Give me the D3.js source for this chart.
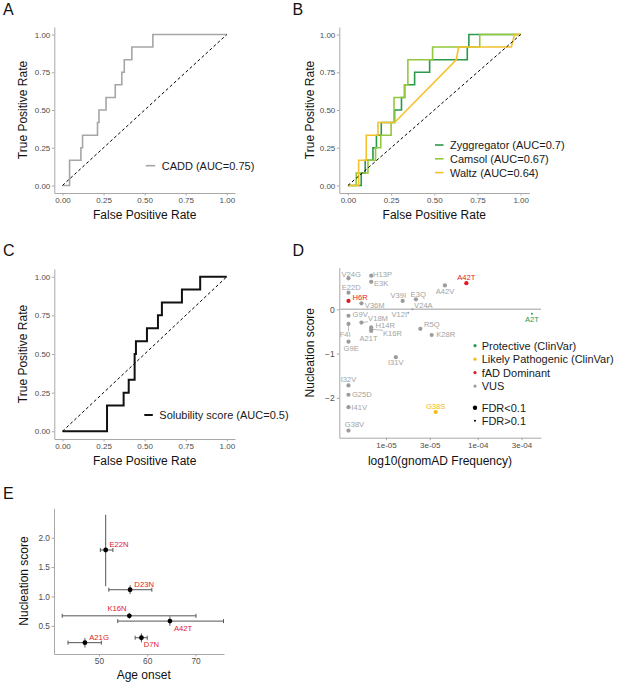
<!DOCTYPE html>
<html lang="en">
<head>
<meta charset="UTF-8" />
<title>Predictor ROC curves and nucleation scores</title>
<script src="https://cdn.jsdelivr.net/npm/d3@7"></script>
<style>
  body { margin: 0; background: #fff; }
  svg { font-family: "Liberation Sans", Arial, Helvetica, sans-serif; }
  .tick text { fill: #4d4d4d; }
  .tick line, .domain { stroke: #a8a8a8; }
</style>
</head>
<body>
<svg id="fig" width="617" height="685"></svg>
<script>
// ---- data ----
const rocTicks = [0, 0.25, 0.5, 0.75, 1];

// A: CADD
const caddFpr = [0, 0.043, 0.043, 0.112, 0.112, 0.122, 0.122, 0.213, 0.213, 0.222, 0.222, 0.265, 0.265, 0.321, 0.321, 0.361, 0.361, 0.376, 0.376, 0.422, 0.422, 0.55, 0.55, 1];
const caddTpr = [0, 0, 0.167, 0.167, 0.25, 0.25, 0.333, 0.333, 0.417, 0.417, 0.5, 0.5, 0.583, 0.583, 0.667, 0.667, 0.75, 0.75, 0.833, 0.833, 0.917, 0.917, 1, 1];

// B: aggregation predictors
const zyggFpr = [0, 0.077, 0.077, 0.1, 0.1, 0.145, 0.145, 0.165, 0.165, 0.193, 0.193, 0.27, 0.27, 0.31, 0.31, 0.328, 0.328, 0.386, 0.386, 0.473, 0.473, 0.691, 0.691, 0.70, 0.70, 1];
const zyggTpr = [0, 0, 0.083, 0.083, 0.167, 0.167, 0.25, 0.25, 0.333, 0.333, 0.417, 0.417, 0.5, 0.5, 0.583, 0.583, 0.667, 0.667, 0.75, 0.75, 0.833, 0.833, 0.917, 0.917, 1, 1];
const camsolFpr = [0, 0.048, 0.048, 0.116, 0.116, 0.16, 0.16, 0.19, 0.19, 0.25, 0.25, 0.267, 0.267, 0.328, 0.328, 0.347, 0.347, 0.49, 0.49, 0.763, 0.763, 1];
const camsolTpr = [0, 0, 0.083, 0.083, 0.167, 0.167, 0.25, 0.25, 0.333, 0.333, 0.417, 0.417, 0.583, 0.583, 0.667, 0.667, 0.833, 0.833, 0.917, 0.917, 1, 1];
const waltzFpr = [0, 0.062, 0.062, 0.106, 0.106, 0.174, 0.174, 0.27, 0.627, 0.641, 0.946, 0.965, 1];
const waltzTpr = [0, 0, 0.167, 0.167, 0.333, 0.333, 0.417, 0.417, 0.833, 0.917, 0.917, 1, 1];

// C: solubility
const solFpr = [0, 0.271, 0.271, 0.372, 0.372, 0.403, 0.403, 0.439, 0.439, 0.447, 0.447, 0.514, 0.514, 0.581, 0.581, 0.605, 0.605, 0.727, 0.727, 0.838, 0.838, 1];
const solTpr = [0, 0, 0.167, 0.167, 0.25, 0.25, 0.333, 0.333, 0.5, 0.5, 0.583, 0.583, 0.667, 0.667, 0.75, 0.75, 0.833, 0.833, 0.917, 0.917, 1, 1];

// D: variants, gnomAD frequency vs nucleation score
const dNames = ["V24G", "H13P", "E3K", "E22D", "H6R", "V36M", "V39I", "E3Q", "V24A", "V12I", "A42V", "A42T", "A2T",
  "G9V", "V18M", "F4I", "H14R", "K16R", "A21T", "R5Q", "K28R", "G9E", "I31V", "I32V", "G25D", "I41V", "G38S", "G38V"];
const dFreq = [3.9e-6, 6.9e-6, 6.9e-6, 3.9e-6, 3.9e-6, 5.4e-6, 1.52e-5, 2.12e-5, 1.94e-5, 1.75e-5, 4.39e-5, 7.52e-5, 3.9e-4,
  3.9e-6, 5.4e-6, 3.9e-6, 6.9e-6, 6.9e-6, 6.9e-6, 2.37e-5, 3.15e-5, 3.9e-6, 1.28e-5, 3.9e-6, 3.9e-6, 3.9e-6, 3.48e-5, 3.9e-6];
const dScore = [0.70, 0.76, 0.62, 0.375, 0.19, 0.135, 0.19, 0.225, 0.0, -0.08, 0.54, 0.59, -0.10,
  -0.145, -0.30, -0.33, -0.41, -0.45, -0.49, -0.44, -0.58, -0.73, -1.08, -1.72, -1.93, -2.21, -2.32, -2.74];
const dClass = ["VUS", "VUS", "VUS", "VUS", "fAD", "VUS", "VUS", "VUS", "VUS", "VUS", "VUS", "fAD", "Protective",
  "VUS", "VUS", "VUS", "VUS", "VUS", "VUS", "VUS", "VUS", "VUS", "VUS", "VUS", "VUS", "VUS", "Likely", "VUS"];
const dSig = [1, 1, 1, 1, 1, 1, 1, 1, 0, 0, 1, 1, 0,
  1, 1, 1, 1, 1, 1, 1, 1, 1, 1, 1, 1, 1, 1, 1];
const dClassKeys = ["Protective", "Likely", "fAD", "VUS"];
const dClassLabels = ["Protective (ClinVar)", "Likely Pathogenic (ClinVar)", "fAD Dominant", "VUS"];
const dFreqTicks = [1e-5, 3e-5, 1e-4, 3e-4];
const dFreqTickLabels = ["1e-05", "3e-05", "1e-04", "3e-04"];
const dScoreTicks = [-2, -1, 0];

// E: age of onset vs nucleation score
const eNames = ["E22N", "D23N", "K16N", "A42T", "A21G", "D7N"];
const eOnset = [51.4, 56.45, 56.3, 64.7, 47.1, 58.8];
const eOnsetLo = [50.3, 52.05, 42.4, 53.9, 43.6, 57.5];
const eOnsetHi = [52.9, 60.96, 70.1, 75.8, 50.5, 60.0];
const eScore = [1.79, 1.114, 0.67, 0.58, 0.213, 0.297];
const eScoreLo = [1.175, 1.04, 0.62, 0.50, 0.13, 0.22];
const eScoreHi = [2.39, 1.19, 0.72, 0.66, 0.29, 0.37];
const eOnsetTicks = [50, 60, 70];
const eScoreTicks = [0.5, 1.0, 1.5, 2.0];

// ---- style / layout ----
const classColor = { Protective: "#2a9a4a", Likely: "#f4b91a", fAD: "#e3191f", VUS: "#9c9c9c" };
const labelColor = { Protective: "#2a9a4a", Likely: "#f4b91a", fAD: "#e3191f", VUS: "#a3a3a3" };
// repel-style label offsets (px) for panel D, same order as dNames
const dNudge = [[2.7, -4], [11.3, -0.7], [10, 2], [2.7, -5.4], [11.7, -3], [13.3, 2.4], [-4.4, -5.7], [2.3, -5.3], [11, -4], [-9, 2], [0, 6], [0, -5.6], [0, 5.6],
  [11.7, -1.4], [16.6, -4.4], [-3.3, 11], [14, -1.7], [21.3, 4.6], [-2.7, 7.3], [11.4, -4.4], [14, 0], [2.7, 6.6], [0, 5.7], [0, -6.4], [13.4, 0], [10.7, 0], [0, -5.6], [6, -5.7]];
const dSegment = ["V18M", "F4I", "K16R"];
const eNudge = [[3.7, -6, "start"], [4.3, -5, "start"], [-2.7, -7, "end"], [4, 7.3, "start"], [4.3, -5.6, "start"], [2.3, 6.7, "start"]];

const svg = d3.select("#fig");
svg.append("rect").attr("width", 617).attr("height", 685).attr("fill", "#fff");

function panelLetter(letter, x, y) {
  svg.append("text").attr("x", x).attr("y", y).attr("font-size", 16).attr("fill", "#111").text(letter);
}

function styleAxis(g, size) {
  g.selectAll(".tick text").attr("font-size", size).attr("font-family", null);
  g.select(".domain").attr("stroke-width", 1);
}

function axisTitles(xt, xx, xy, yt, yx, yy) {
  svg.append("text").attr("x", xx).attr("y", xy).attr("text-anchor", "middle")
    .attr("font-size", 12).attr("fill", "#111").text(xt);
  svg.append("text").attr("transform", `translate(${yx},${yy}) rotate(-90)`).attr("text-anchor", "middle")
    .attr("font-size", 12).attr("fill", "#111").text(yt);
}

function rocPanel(box, curves, legend) {
  const x = d3.scaleLinear().domain([-0.05, 1.05]).range([box.left, box.right]);
  const y = d3.scaleLinear().domain([-0.05, 1.05]).range([box.bottom, box.top]);
  const fmt = d3.format(".2f");

  const gx = svg.append("g").attr("transform", `translate(0,${box.bottom})`)
    .call(d3.axisBottom(x).tickValues(rocTicks).tickFormat(fmt).tickSize(2.5).tickSizeOuter(0).tickPadding(2.2));
  styleAxis(gx, 8);
  const gy = svg.append("g").attr("transform", `translate(${box.left},0)`)
    .call(d3.axisLeft(y).tickValues(rocTicks).tickFormat(fmt).tickSize(2.5).tickSizeOuter(0).tickPadding(1.5));
  styleAxis(gy, 8);

  const line = d3.line().x(d => x(d[0])).y(d => y(d[1]));
  curves.forEach(c => {
    svg.append("path").datum(d3.zip(c.fpr, c.tpr)).attr("d", line)
      .attr("fill", "none").attr("stroke", c.color).attr("stroke-width", c.width)
      .attr("stroke-linejoin", "miter");
  });
  // chance diagonal
  svg.append("path").datum([[0, 0], [1, 1]]).attr("d", line)
    .attr("stroke", "#000").attr("stroke-width", 1).attr("stroke-dasharray", "3,2.4");

  curves.forEach((c, i) => {
    const ly = legend.y + i * legend.step;
    svg.append("line").attr("x1", legend.x).attr("x2", legend.x + legend.key)
      .attr("y1", ly).attr("y2", ly).attr("stroke", c.color).attr("stroke-width", c.width);
    svg.append("text").attr("x", legend.x + legend.key + 6.5).attr("y", ly + 3.9)
      .attr("font-size", 11).attr("fill", "#1a1a1a").text(c.label);
  });
}

// ---- A ----
panelLetter("A", 3, 14.5);
rocPanel({ left: 54.3, right: 235, top: 27, bottom: 193 },
  [{ fpr: caddFpr, tpr: caddTpr, color: "#a6a6a6", width: 1.6, label: "CADD (AUC=0.75)" }],
  { x: 145.7, y: 165.7, step: 0, key: 9.5 });
axisTitles("False Positive Rate", 144.7, 218.5, "True Positive Rate", 26.8, 110);

// ---- B ----
panelLetter("B", 292.5, 14.5);
rocPanel({ left: 339.3, right: 529.3, top: 27, bottom: 193 },
  [{ fpr: zyggFpr, tpr: zyggTpr, color: "#2a9a4a", width: 1.6, label: "Zyggregator (AUC=0.7)" },
   { fpr: camsolFpr, tpr: camsolTpr, color: "#93c83e", width: 1.6, label: "Camsol (AUC=0.67)" },
   { fpr: waltzFpr, tpr: waltzTpr, color: "#f5c22b", width: 1.6, label: "Waltz (AUC=0.64)" }],
  { x: 435, y: 145, step: 13.8, key: 8.5 });
axisTitles("False Positive Rate", 434.3, 218.5, "True Positive Rate", 313.5, 110);

// ---- C ----
panelLetter("C", 3, 256);
rocPanel({ left: 54.3, right: 235, top: 269, bottom: 439 },
  [{ fpr: solFpr, tpr: solTpr, color: "#111", width: 2, label: "Solubility score (AUC=0.5)" }],
  { x: 144.3, y: 415, step: 0, key: 8.5 });
axisTitles("False Positive Rate", 144.7, 465, "True Positive Rate", 26.8, 354);

// ---- D ----
panelLetter("D", 292.5, 256);
{
  const box = { left: 339.3, right: 541, top: 267.7, bottom: 437.7 };
  const x = d3.scaleLog().domain([Math.pow(10, -5.509), Math.pow(10, -3.31)]).range([box.left, box.right]);
  const y = d3.scaleLinear().domain([-2.9, 0.94]).range([box.bottom, box.top]);

  const gx = svg.append("g").attr("transform", `translate(0,${box.bottom})`)
    .call(d3.axisBottom(x).tickValues(dFreqTicks).tickFormat((d, i) => dFreqTickLabels[i])
      .tickSize(2.5).tickSizeOuter(0).tickPadding(2.5));
  styleAxis(gx, 8);
  const gy = svg.append("g").attr("transform", `translate(${box.left},0)`)
    .call(d3.axisLeft(y).tickValues(dScoreTicks).tickFormat(d => d < 0 ? "\u2212" + Math.abs(d) : String(d))
      .tickSize(2.5).tickSizeOuter(0).tickPadding(2));
  styleAxis(gy, 8.5);

  // zero reference line
  svg.append("line").attr("x1", box.left).attr("x2", box.right).attr("y1", y(0)).attr("y2", y(0))
    .attr("stroke", "#bdbdbd").attr("stroke-width", 1.5);

  dNames.forEach((n, i) => {
    const px = x(dFreq[i]), py = y(dScore[i]);
    svg.append("circle").attr("cx", px).attr("cy", py).attr("r", dSig[i] ? 2.1 : 1)
      .attr("fill", classColor[dClass[i]]);
    const t = svg.append("text").attr("x", px + dNudge[i][0]).attr("y", py + dNudge[i][1])
      .attr("text-anchor", "middle").attr("dominant-baseline", "central")
      .attr("font-size", 7.6).attr("fill", labelColor[dClass[i]]).text(n);
    if (dSegment.includes(n)) {
      const b = t.node().getBBox();
      const ex = Math.max(b.x, Math.min(px, b.x + b.width));
      const ey = Math.max(b.y + 1, Math.min(py, b.y + b.height - 1));
      svg.append("line").attr("x1", px).attr("y1", py).attr("x2", ex).attr("y2", ey)
        .attr("stroke", "#a3a3a3").attr("stroke-width", 0.7);
    }
  });

  // legend
  dClassKeys.forEach((k, i) => {
    const ly = 345.7 + i * 13.45;
    svg.append("circle").attr("cx", 475).attr("cy", ly).attr("r", 1.6).attr("fill", classColor[k]);
    svg.append("text").attr("x", 481.7).attr("y", ly + 3.9).attr("font-size", 11)
      .attr("fill", "#1a1a1a").text(dClassLabels[i]);
  });
  ["FDR<0.1", "FDR>0.1"].forEach((lab, i) => {
    const ly = 407.7 + i * 13;
    svg.append("circle").attr("cx", 475).attr("cy", ly).attr("r", i === 0 ? 2.2 : 1).attr("fill", "#000");
    svg.append("text").attr("x", 481.7).attr("y", ly + 3.9).attr("font-size", 11)
      .attr("fill", "#1a1a1a").text(lab);
  });

  axisTitles("log10(gnomAD Frequency)", 440, 464.5, "Nucleation score", 314, 352.7);
}

// ---- E ----
panelLetter("E", 3, 498.5);
{
  const box = { left: 54, right: 224, top: 508.3, bottom: 654 };
  const x = d3.scaleLinear().domain([40.7, 75.9]).range([box.left, box.right]);
  const y = d3.scaleLinear().domain([0.02, 2.5]).range([box.bottom, box.top]);

  const gx = svg.append("g").attr("transform", `translate(0,${box.bottom})`)
    .call(d3.axisBottom(x).tickValues(eOnsetTicks).tickSize(2.5).tickSizeOuter(0).tickPadding(2));
  styleAxis(gx, 8.3);
  const gy = svg.append("g").attr("transform", `translate(${box.left},0)`)
    .call(d3.axisLeft(y).tickValues(eScoreTicks).tickFormat(d3.format(".1f")).tickSize(2.5).tickSizeOuter(0).tickPadding(1.5));
  styleAxis(gy, 8.3);

  eNames.forEach((n, i) => {
    const px = x(eOnset[i]), py = y(eScore[i]);
    // vertical error bar
    svg.append("line").attr("x1", px).attr("x2", px).attr("y1", y(eScoreLo[i])).attr("y2", y(eScoreHi[i]))
      .attr("stroke", "#555").attr("stroke-width", 1);
    // horizontal error bar with caps
    const x0 = x(eOnsetLo[i]), x1 = x(eOnsetHi[i]);
    svg.append("line").attr("x1", x0).attr("x2", x1).attr("y1", py).attr("y2", py)
      .attr("stroke", "#555").attr("stroke-width", 1);
    [x0, x1].forEach(cx => svg.append("line").attr("x1", cx).attr("x2", cx)
      .attr("y1", py - 2).attr("y2", py + 2).attr("stroke", "#555").attr("stroke-width", 1));
    svg.append("circle").attr("cx", px).attr("cy", py).attr("r", 2.4).attr("fill", "#000");
    svg.append("text").attr("x", px + eNudge[i][0]).attr("y", py + eNudge[i][1])
      .attr("text-anchor", eNudge[i][2]).attr("dominant-baseline", "central")
      .attr("font-size", 7.7).attr("fill", "#e3191f").text(n);
  });

  axisTitles("Age onset", 143.7, 679, "Nucleation score", 28, 581);
}
</script>
</body>
</html>
